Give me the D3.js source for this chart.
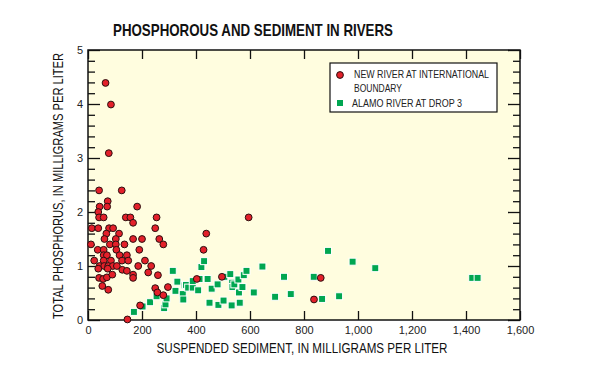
<!DOCTYPE html>
<html><head><meta charset="utf-8">
<script src="https://cdn.jsdelivr.net/npm/d3@7"></script>
<style>body{margin:0;background:#fff}svg{display:block}</style>
</head><body>
<script>
const title = "PHOSPHOROUS AND SEDIMENT IN RIVERS";
const xLabel = "SUSPENDED SEDIMENT, IN MILLIGRAMS PER LITER";
const yLabel = "TOTAL PHOSPHORUS, IN MILLIGRAMS PER LITER";
const seriesNames = ["NEW RIVER AT INTERNATIONAL|BOUNDARY", "ALAMO RIVER AT DROP 3"];
const xTicks = [0,200,400,600,800,1000,1200,1400,1600];
const yTicks = [0,1,2,3,4,5];

const newX = [65,85,77,41,125,73,43,71,182,38,41,58,140,157,254,167,595,
  14,38,78,93,249,68,115,438,61,103,167,200,264,11,81,103,135,279,
  36,58,105,190,428,58,70,117,144,23,58,85,126,149,211,234,
  43,60,75,92,107,186,38,73,127,144,167,223,41,56,70,90,167,
  53,75,259,403,496,249,257,279,296,193,146,862,837];
const newY = [4.39,3.99,3.09,2.4,2.4,2.2,2.1,2.1,2.1,2.0,1.9,1.9,1.9,1.9,1.9,1.8,1.9,
  1.7,1.7,1.7,1.7,1.7,1.6,1.6,1.6,1.5,1.5,1.5,1.5,1.5,1.4,1.4,1.4,1.4,1.4,
  1.3,1.3,1.3,1.3,1.3,1.2,1.2,1.2,1.2,1.1,1.1,1.1,1.1,1.1,1.1,1.0,
  1.0,1.0,1.0,1.0,1.0,1.0,0.95,0.95,0.93,0.91,0.84,0.88,0.78,0.76,0.79,0.84,0.78,
  0.63,0.56,0.83,0.76,0.8,0.59,0.51,0.46,0.61,0.27,0.01,0.78,0.38];

const alamoX = [170,202,230,254,282,287,291,314,324,331,351,353,358,363,371,388,388,408,413,420,430,443,450,458,480,483,502,505,527,532,534,535,542,557,559,562,572,577,587,614,646,693,726,751,836,867,889,930,980,1064,1423,1443];
const alamoY = [0.15,0.25,0.33,0.44,0.22,0.29,0.40,0.91,0.54,0.71,0.48,0.38,0.64,0.65,0.6,0.6,0.72,0.55,0.76,0.98,1.09,0.76,0.32,0.58,0.66,0.28,0.36,0.8,0.85,0.27,0.69,0.61,0.66,0.75,0.51,0.32,0.61,0.83,0.91,0.51,0.99,0.43,0.8,0.48,0.8,0.39,1.28,0.44,1.08,0.96,0.78,0.78];

const W = 592, H = 382;
const L = 88, R = 520, T = 50, B = 320;
const FONT = "'Liberation Sans Narrow', 'Arial Narrow', 'Liberation Sans', sans-serif";
const RED = "#e3202a", GREEN = "#00a651";

const svg = d3.select("body").append("svg").attr("width", W).attr("height", H);
const x = d3.scaleLinear().domain([0,1600]).range([L,R]);
const y = d3.scaleLinear().domain([0,5]).range([B,T]);

svg.append("rect").attr("x",L).attr("y",T).attr("width",R-L).attr("height",B-T)
  .attr("fill","#fffddf");

const tickStyle = g => { g.select(".domain").remove(); g.selectAll("line").attr("stroke","#111").attr("stroke-width",1.3); };
const lblStyle = g => g.selectAll("text").attr("font-family",FONT).attr("font-size",11).attr("fill","#222");

svg.append("g").attr("transform",`translate(0,${B})`)
  .call(d3.axisBottom(x).tickValues(xTicks).tickSizeInner(-9).tickSizeOuter(0).tickPadding(5).tickFormat(d3.format(",")))
  .call(tickStyle).call(lblStyle)
  .call(g=>g.selectAll("text").attr("y",6).attr("dy","0.71em").attr("textLength",null));
svg.append("g").attr("transform",`translate(0,${T})`)
  .call(d3.axisTop(x).tickValues(xTicks).tickSizeInner(-9).tickSizeOuter(0).tickFormat(""))
  .call(tickStyle);
const yMinor = d3.range(0,5.01,0.2).filter(v=>Math.abs(v-Math.round(v))>1e-6);
svg.append("g").attr("transform",`translate(${L},0)`)
  .call(d3.axisLeft(y).tickValues(yTicks).tickSizeInner(-12).tickSizeOuter(0).tickPadding(5).tickFormat(d3.format("d")))
  .call(tickStyle).call(lblStyle);
svg.append("g").attr("transform",`translate(${L},0)`)
  .call(d3.axisLeft(y).tickValues(yMinor).tickSizeInner(-7).tickSizeOuter(0).tickFormat(""))
  .call(tickStyle);
svg.append("g").attr("transform",`translate(${R},0)`)
  .call(d3.axisRight(y).tickValues(yTicks).tickSizeInner(-12).tickSizeOuter(0).tickFormat(""))
  .call(tickStyle);
svg.append("g").attr("transform",`translate(${R},0)`)
  .call(d3.axisRight(y).tickValues(yMinor).tickSizeInner(-7).tickSizeOuter(0).tickFormat(""))
  .call(tickStyle);

svg.append("rect").attr("x",L).attr("y",T).attr("width",R-L).attr("height",B-T)
  .attr("fill","none").attr("stroke","#111").attr("stroke-width",1.5);

const alamo = alamoX.map((v,i)=>({x:v,y:alamoY[i]}));
const newr = newX.map((v,i)=>({x:v,y:newY[i]}));
const S = 7;
svg.append("g").selectAll("rect").data(alamo).join("rect")
  .attr("x",d=>x(d.x)-S/2).attr("y",d=>y(d.y)-S/2).attr("width",S).attr("height",S)
  .attr("fill",GREEN).attr("stroke","#fff").attr("stroke-width",1);
svg.append("g").selectAll("circle").data(newr).join("circle")
  .attr("cx",d=>x(d.x)).attr("cy",d=>y(d.y)).attr("r",3.4)
  .attr("fill",RED).attr("stroke","#2a1010").attr("stroke-width",1);

// legend
svg.append("rect").attr("x",330).attr("y",63).attr("width",167).attr("height",49)
  .attr("fill","#fff").attr("stroke","#111").attr("stroke-width",1.2);
svg.append("circle").attr("cx",340).attr("cy",75).attr("r",3.4).attr("fill",RED).attr("stroke","#2a1010");
const l1 = seriesNames[0].split("|");
const legTxt = (tx,ty,s,len) => svg.append("text").attr("x",tx).attr("y",ty)
  .attr("font-family",FONT).attr("font-size",11).attr("fill","#222")
  .attr("textLength",len).attr("lengthAdjust","spacingAndGlyphs").text(s);
legTxt(354,78,l1[0],135);
legTxt(354,92,l1[1],48);
svg.append("rect").attr("x",337).attr("y",100).attr("width",6).attr("height",6).attr("fill",GREEN);
legTxt(352,107,seriesNames[1],110);

// titles
svg.append("text").attr("x",253).attr("y",36).attr("text-anchor","middle")
  .attr("font-family",FONT).attr("font-weight","bold").attr("font-size",17).attr("fill","#111")
  .attr("textLength",280).attr("lengthAdjust","spacingAndGlyphs").text(title);
svg.append("text").attr("x",302).attr("y",353).attr("text-anchor","middle")
  .attr("font-family",FONT).attr("font-size",15).attr("fill","#111")
  .attr("textLength",291).attr("lengthAdjust","spacingAndGlyphs").text(xLabel);
svg.append("text").attr("transform","translate(63,186) rotate(-90)").attr("text-anchor","middle")
  .attr("font-family",FONT).attr("font-size",15).attr("fill","#111")
  .attr("textLength",266).attr("lengthAdjust","spacingAndGlyphs").text(yLabel);
</script>
</body></html>
